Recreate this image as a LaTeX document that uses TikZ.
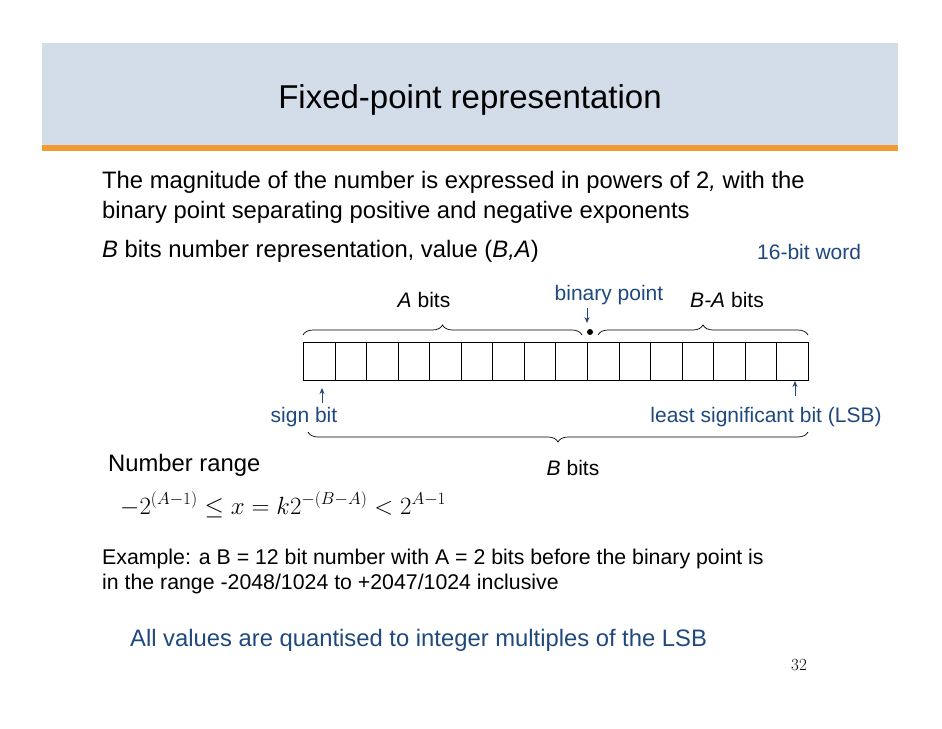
\documentclass[tikz,border=0pt]{standalone}
\usepackage{fontspec}
\setmainfont{Liberation Sans}
\newfontfamily\lmr{Latin Modern Roman}
\usetikzlibrary{decorations.pathreplacing,arrows.meta}
\definecolor{hdr}{HTML}{D3DDE9}
\definecolor{org}{HTML}{F39A33}
\definecolor{dblue}{HTML}{1F497D}
\tikzset{
 txt/.style={anchor=base west,inner sep=0pt,font=\fontsize{23.8}{26}\selectfont},
 lbl/.style={anchor=base,inner sep=0pt,font=\fontsize{21}{24}\selectfont},
 blbl/.style={lbl,text=dblue},
 cell/.style={draw,line width=0.8pt,minimum width=31.56pt,minimum height=38pt,inner sep=0pt,anchor=north west},
 brc/.style={decorate,decoration={brace,amplitude=10pt},line width=0.7pt},
 arr/.style={-{Stealth[length=6pt,width=5pt]},dblue,line width=0.9pt}
}
\begin{document}
\begin{tikzpicture}[x=1pt,y=-1pt]
\useasboundingbox (0,0) rectangle (942,728);
\fill[white] (0,0) rectangle (942,728);
\fill[hdr] (42,43) rectangle (898,145);
\fill[org] (42,145) rectangle (898,151);
\node[anchor=base,inner sep=0pt,font=\fontsize{33}{36}\selectfont] (title) at (470,108) {Fixed-point representation};
\node[txt] (l1) at (102,188) {The magnitude of the number is expressed in powers of 2\textit{,} with the};
\node[txt] (l2) at (102,218) {binary point separating positive and negative exponents};
\node[txt] (l3) at (102,257) {\textit{B} bits number representation, value (\textit{B,A})};
\node[blbl,anchor=base west] (word) at (757,259) {16-bit word};
\foreach \i in {0,...,15} \node[cell] (c\i) at ({303+31.56*\i},342) {};
\node[lbl] (ab) at (424,307) {\textit{A} bits};
\node[blbl] (bp) at (609,300) {binary point};
\node[lbl] (bab) at (727,307) {\textit{B-A} bits};
\fill (590,332) circle (3pt);
\coordinate (bpt) at (587,308);
\coordinate (bph) at (587,323);
\draw[arr] (bpt) -- (bph);
\draw[brc] (303,335) -- (582,335);
\draw[brc] (598,335) -- (808,335);
\draw[brc] (808,432) -- (308,432);
\node[blbl] (sb) at (304,422) {sign bit};
\node[blbl] (lsb) at (766,422) {least significant bit (LSB)};
\coordinate (sa) at (322,403); \coordinate (sh) at (322,388);
\coordinate (la) at (795,396); \coordinate (lh) at (795,381);
\draw[arr] (sa) -- (sh);
\draw[arr] (la) -- (lh);
\node[txt] (nr) at (108,471) {Number range};
\node[lbl] (bb) at (573,475) {\textit{B} bits};
\node[anchor=base west,inner sep=0pt,font=\fontsize{26.7}{30}\selectfont] (eq) at (120,514) {$-2^{(A-1)}\le x=k2^{-(B-A)}<2^{A-1}$};
\node[anchor=base west,inner sep=0pt,font=\fontsize{21.3}{24}\selectfont] (e1) at (102,564) {Example: a B = 12 bit number with A = 2 bits before the binary point is};
\node[anchor=base west,inner sep=0pt,font=\fontsize{21.3}{24}\selectfont] (e2) at (102,589) {in the range -2048/1024 to +2047/1024 inclusive};
\node[txt,text=dblue] (all) at (130,646) {All values are quantised to integer multiples of the LSB};
\node[anchor=base,inner sep=0pt,font=\lmr\fontsize{17}{19}\selectfont] (pg) at (799,670) {32};
\end{tikzpicture}
\end{document}
